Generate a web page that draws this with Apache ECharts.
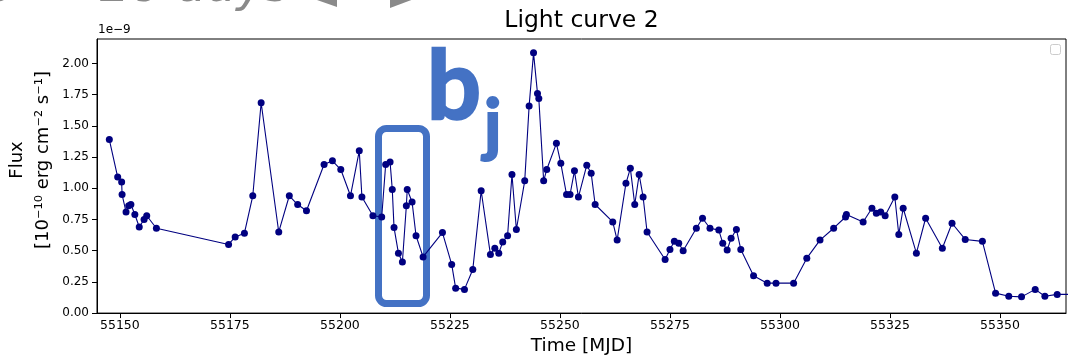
<!DOCTYPE html>
<html>
<head>
<meta charset="utf-8">
<script src="https://cdn.jsdelivr.net/npm/echarts@6/dist/echarts.min.js"></script>
<style>
html,body{margin:0;padding:0;background:#fff;}
#chart{width:1068px;height:361px;}
</style>
</head>
<body>
<div id="chart"></div>
<script>
// Time in MJD
const times = [
  55147.6, 55149.5, 55150.4, 55150.5, 55151.4, 55152.0, 55152.5, 55153.4, 55154.4, 55155.5,
  55156.1, 55158.3, 55174.7, 55176.2, 55178.3, 55180.2, 55182.1, 55186.1, 55188.5, 55190.4,
  55192.4, 55196.4, 55198.3, 55200.2, 55202.4, 55204.4, 55205.0, 55207.5, 55209.5, 55210.4,
  55211.4, 55211.9, 55212.3, 55213.3, 55214.2, 55215.1, 55215.3, 55216.4, 55217.3, 55218.9,
  55223.3, 55225.4, 55226.3, 55228.3, 55230.2, 55232.1, 55234.2, 55235.2, 55236.1, 55237.0,
  55238.1, 55239.1, 55240.1, 55242.0, 55243.0, 55244.0, 55244.9, 55245.2, 55246.3, 55247.0,
  55249.2, 55250.2, 55251.5, 55252.3, 55253.3, 55254.2, 55256.1, 55257.1, 55258.0, 55262.0,
  55263.0, 55265.0, 55266.0, 55267.0, 55268.0, 55268.9, 55269.8, 55273.9, 55275.0, 55276.0,
  55277.0, 55278.0, 55281.0, 55282.4, 55284.1, 55286.1, 55287.0, 55288.0, 55288.9, 55290.1,
  55291.1, 55294.0, 55297.1, 55299.1, 55303.1, 55306.1, 55309.1, 55312.2, 55314.9, 55315.1,
  55318.9, 55320.9, 55321.9, 55322.9, 55323.9, 55326.1, 55327.0, 55328.0, 55331.0, 55333.1,
  55336.9, 55339.1, 55342.1, 55346.0, 55349.0, 55352.0, 55354.9, 55358.0, 55360.2, 55363.0,
  55366.0
];
// Flux in units of 1e-9
const flux = [
  1.39, 1.09, 1.05, 0.95, 0.81, 0.86, 0.87, 0.79, 0.69, 0.75,
  0.78, 0.68, 0.55, 0.61, 0.64, 0.94, 1.685, 0.65, 0.94, 0.87,
  0.82, 1.19, 1.22, 1.15, 0.94, 1.30, 0.93, 0.78, 0.77, 1.19,
  1.21, 0.99, 0.685, 0.48, 0.41, 0.86, 0.99, 0.89, 0.62, 0.45,
  0.645, 0.39, 0.20, 0.19, 0.35, 0.98, 0.47, 0.52, 0.48, 0.57,
  0.62, 1.11, 0.67, 1.06, 1.66, 2.085, 1.76, 1.72, 1.06, 1.15,
  1.36, 1.20, 0.95, 0.95, 1.14, 0.93, 1.185, 1.12, 0.87, 0.73,
  0.585, 1.04, 1.16, 0.87, 1.11, 0.93, 0.65, 0.43, 0.51, 0.575,
  0.56, 0.50, 0.68, 0.76, 0.68, 0.665, 0.56, 0.505, 0.60, 0.67,
  0.51, 0.30, 0.24, 0.24, 0.24, 0.44, 0.585, 0.68, 0.77, 0.79,
  0.73, 0.84, 0.80, 0.81, 0.78, 0.93, 0.63, 0.84, 0.48, 0.76,
  0.52, 0.72, 0.59, 0.575, 0.16, 0.135, 0.13, 0.19, 0.135, 0.15,
  0.15
];
const xTicks = [55150, 55175, 55200, 55225, 55250, 55275, 55300, 55325, 55350];
const yTicks = [0, 0.25, 0.5, 0.75, 1.0, 1.25, 1.5, 1.75, 2.0];

const FONT = 'DejaVu Sans';
const BLUE = '#4472C4';

const chart = echarts.init(document.getElementById('chart'), null, {renderer: 'canvas'});
chart.setOption({
  animation: false,
  backgroundColor: '#fff',
  grid: {left: 97, right: 2, top: 39, bottom: 47.5, show: true, borderColor: '#000', borderWidth: 1, containLabel: false},
  xAxis: {
    type: 'value', min: 55144.8, max: 55365,
    axisLine: {show: true, onZero: false, lineStyle: {color: '#000', width: 1}},
    axisTick: {show: true, inside: false, length: 5, customValues: xTicks, lineStyle: {color: '#000', width: 1}},
    axisLabel: {show: true, customValues: xTicks, color: '#000', fontFamily: FONT, fontSize: 12.5, margin: 6,
      formatter: v => String(v)},
    splitLine: {show: false},
    name: 'Time [MJD]', nameLocation: 'middle', nameGap: 23,
    nameTextStyle: {fontFamily: FONT, fontSize: 18.5, color: '#000'}
  },
  yAxis: {
    type: 'value', min: 0, max: 2.196,
    axisLine: {show: true, onZero: false, lineStyle: {color: '#000', width: 1}},
    axisTick: {show: true, inside: false, length: 5, customValues: yTicks, lineStyle: {color: '#000', width: 1}},
    axisLabel: {show: true, customValues: yTicks, color: '#000', fontFamily: FONT, fontSize: 12, margin: 8,
      formatter: v => v.toFixed(2)},
    splitLine: {show: false}
  },
  series: [{
    type: 'line',
    data: times.map((t, i) => [t, flux[i]]),
    symbol: 'circle', symbolSize: 7, showSymbol: true,
    itemStyle: {color: '#000080'},
    lineStyle: {color: '#000080', width: 1.1},
    clip: true, z: 3
  }],
  graphic: [
    // title
    {type: 'text', z: 10, style: {x: 581.5, y: 21, text: 'Light curve 2', fill: '#000',
      font: '23.5px "DejaVu Sans"', align: 'center', verticalAlign: 'middle'}},
    // offset text
    {type: 'text', z: 10, style: {x: 98, y: 30, text: '1e\u22129', fill: '#000',
      font: '12px "DejaVu Sans"', align: 'left', verticalAlign: 'middle'}},
    // y-axis label
    {type: 'text', z: 10, x: 30, y: 160, rotation: Math.PI / 2,
      style: {x: 0, y: 0, text: 'Flux\n[10\u207B\u00B9\u2070 erg cm\u207B\u00B2 s\u207B\u00B9]', fill: '#000',
        font: '18px "DejaVu Sans"', align: 'center', verticalAlign: 'middle', lineHeight: 26}},
    // empty legend box
    {type: 'rect', z: 10, shape: {x: 1050.5, y: 44.5, width: 10, height: 10, r: 2},
      style: {fill: '#fff', stroke: '#cccccc', lineWidth: 1}},
    // annotation box
    {type: 'rect', z: 1, shape: {x: 378.5, y: 128.5, width: 48, height: 175, r: 8},
      style: {fill: 'none', stroke: BLUE, lineWidth: 7}},
    // b_j annotation
    {type: 'text', z: 10, style: {x: 427, y: 88, text: 'b', fill: BLUE, stroke: BLUE, lineWidth: 2.5,
      font: 'bold 95px Lato', align: 'left', verticalAlign: 'middle'}},
    {type: 'text', z: 10, style: {x: 484, y: 126, text: 'j', fill: BLUE, stroke: BLUE, lineWidth: 2,
      font: 'bold 69px Lato', align: 'left', verticalAlign: 'middle'}},
    // cut-off slide header
    {type: 'text', z: 10, style: {x: -14, y: -11, text: '0', fill: '#8a8a8a',
      font: 'italic 48px "DejaVu Sans"', align: 'left', verticalAlign: 'middle'}},
    {type: 'text', z: 10, style: {x: 100, y: -11, text: '28 days', fill: '#8a8a8a',
      font: 'italic 48px "DejaVu Sans"', align: 'left', verticalAlign: 'middle'}},
    {type: 'polygon', z: 10, shape: {points: [[337, -21], [337, 7], [297, -7]]}, style: {fill: '#8a8a8a'}},
    {type: 'polygon', z: 10, shape: {points: [[390, -21], [390, 8], [430, -7]]}, style: {fill: '#8a8a8a'}}
  ]
});
</script>
</body>
</html>
